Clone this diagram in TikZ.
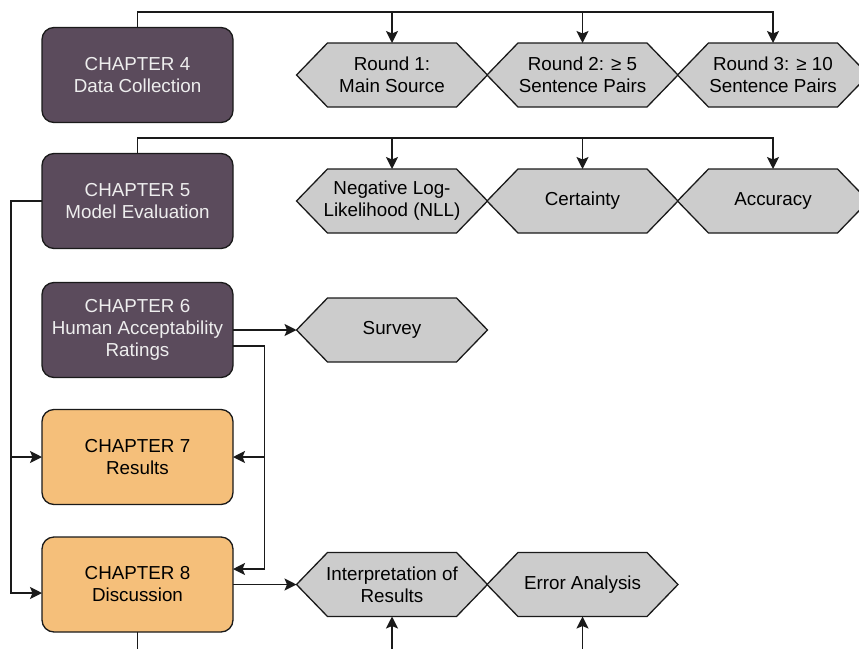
\documentclass[tikz,border=0pt]{standalone}
\usepackage{fontspec}
\setmainfont{Liberation Sans}
\usetikzlibrary{arrows.meta,backgrounds,calc}
\definecolor{chapdark}{HTML}{5B4B5C}
\definecolor{chaporange}{HTML}{F5BF7A}
\definecolor{hexgray}{HTML}{CCCCCC}
\definecolor{lightext}{HTML}{EEEEEE}
\definecolor{linecol}{HTML}{1A1A1A}
\tikzset{
  chapbox/.style={draw=linecol, line width=1.3pt, rounded corners=12pt,
    minimum width=191pt, minimum height=95pt, inner sep=0pt, outer sep=0pt,
    align=center, font=\fontsize{18.8}{22}\selectfont},
  chapdk/.style={chapbox, fill=chapdark, text=lightext},
  chapor/.style={chapbox, fill=chaporange, text=black},
  hexnode/.style={minimum width=191pt, minimum height=64pt, inner sep=0pt,
    outer sep=0pt, align=center, font=\fontsize{18.8}{22}\selectfont, text=black},
  hexline/.style={draw=linecol, line width=1.3pt, fill=hexgray, line join=miter},
  conn/.style={draw=linecol, line width=1.4pt},
  arr/.style={conn, -{Stealth[length=12pt,width=12pt,inset=2.5pt]}}
}
\begin{document}
\begin{tikzpicture}[x=1pt,y=-1pt]
\useasboundingbox (0,0) rectangle (859,648);
% chapter boxes
\node[chapdk] (c4) at (137.5,75) {CHAPTER 4\\Data Collection};
\node[chapdk] (c5) at (137.5,201) {CHAPTER 5\\Model Evaluation};
\node[chapdk] (c6) at (137.5,330) {CHAPTER 6\\Human Acceptability\\Ratings};
\node[chapor] (c7) at (137.5,457) {CHAPTER 7\\Results};
\node[chapor] (c8) at (137.5,584.5) {CHAPTER 8\\Discussion};
% hexagon nodes
\node[hexnode] (r1) at (392,75) {Round 1:\\Main Source};
\node[hexnode] (r2) at (582.5,75) {Round 2: ≥ 5\\Sentence Pairs};
\node[hexnode] (r3) at (773,75) {Round 3: ≥ 10\\Sentence Pairs};
\node[hexnode] (m1) at (392,201) {Negative Log-\\Likelihood (NLL)};
\node[hexnode] (m2) at (582.5,201) {Certainty};
\node[hexnode] (m3) at (773,201) {Accuracy};
\node[hexnode] (sv) at (392,330) {Survey};
\node[hexnode] (ir) at (392,584.5) {Interpretation of\\Results};
\node[hexnode] (ea) at (582.5,584.5) {Error Analysis};
\begin{scope}[on background layer]
\foreach \n in {r1,r2,r3,m1,m2,m3,sv,ir,ea}{
  \path[hexline] (\n.west) -- ([xshift=31pt]\n.north west) -- ([xshift=-31pt]\n.north east)
    -- (\n.east) -- ([xshift=-31pt]\n.south east) -- ([xshift=31pt]\n.south west) -- cycle;
}
\end{scope}
% coordinates
\coordinate (t4) at (137.5,12);
\coordinate (t5) at (137.5,138);
\coordinate (l5) at (11,201);
\coordinate (r6) at (264.5,346);
\coordinate (b8) at (137.5,680);
% connectors
\draw[arr] (c4.north) -- (t4) -| (r1.north);
\draw[arr] (t4) -| (r2.north);
\draw[arr] (t4) -| (r3.north);
\draw[arr] (c5.north) -- (t5) -| (m1.north);
\draw[arr] (t5) -| (m2.north);
\draw[arr] (t5) -| (m3.north);
\draw[arr] (c5.west) -- (l5) |- (c7.west);
\draw[arr] (l5) |- ([yshift=-8.5pt]c8.west);
\draw[arr] (c6.east) -- (sv.west);
\draw[arr] ([yshift=-16pt]c6.east) -- (r6) |- (c7.east);
\draw[arr] (r6) |- ([yshift=15.5pt]c8.east);
\draw[arr] (c8.east) -- (ir.west);
\draw[arr] (c8.south) -- (b8) -| (ir.south);
\draw[arr] (b8) -| (ea.south);
\end{tikzpicture}
\end{document}
